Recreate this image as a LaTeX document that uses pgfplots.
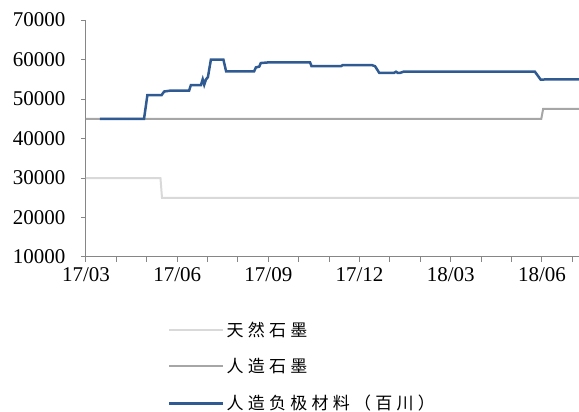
\documentclass[border=0pt]{standalone}
\usepackage{fontspec}
\setmainfont{Liberation Serif}
\newfontfamily\cjk[LetterSpace=25]{Noto Sans CJK SC}
\usepackage{pgfplots}
\pgfplotsset{compat=1.18}

\definecolor{natgray}{HTML}{D9D9D9}
\definecolor{artgray}{HTML}{A6A6A6}
\definecolor{anodeblue}{HTML}{2F5A92}
\definecolor{axgray}{HTML}{868686}

\begin{document}
\begin{tikzpicture}
\useasboundingbox (-86pt,-155pt) rectangle (493pt,257pt);
\begin{axis}[
    scale only axis,
    width=493pt, height=237pt,
    at={(0,0)}, anchor=south west,
    xmin=0, xmax=16.22,
    ymin=10000, ymax=70000,
    axis x line=bottom, axis y line=left,
    axis line style={-, draw=axgray, line width=1pt},
    tick style={draw=axgray, line width=1pt},
    tick align=outside,
    major tick length=5pt, minor tick length=5pt,
    xtick={0,3,6,9,12,15},
    xticklabels={17/03,17/06,17/09,17/12,18/03,18/06},
    minor xtick={1,2,4,5,7,8,10,11,13,14,16},
    ytick distance=10000,
    scaled y ticks=false,
    /pgf/number format/1000 sep={},
    /pgf/number format/assume math mode=true,
    ticklabel style={font=\fontsize{21}{23}\selectfont, text=black},
    yticklabel style={xshift=-12pt},
    xticklabel style={yshift=-2pt},
    legend style={at={(0.16,-0.255)}, anchor=north west, draw=none,
        font=\cjk\fontsize{17}{19}\selectfont, row sep=17pt,
        cells={anchor=west}},
    legend cell align=left,
    legend image code/.code={\draw[#1] (0pt,0pt) -- (54pt,0pt);},
]
\addplot[natgray, line width=2pt] coordinates {
    (0,30000) (2.45,30000) (2.50,25000) (16.22,25000)};
\addlegendentry{天然石墨}
\addplot[artgray, line width=2pt] coordinates {
    (0,45000) (14.98,45000) (15.04,47500) (16.22,47500)};
\addlegendentry{人造石墨}
\addplot[anodeblue, line width=2.5pt] coordinates {
    (0.46,45000) (1.91,45000) (2.02,51000) (2.49,51000) (2.57,51900)
    (2.76,52100) (3.39,52100) (3.45,53500) (3.78,53500) (3.84,55000)
    (3.89,53600) (3.95,55000) (4.01,55500) (4.11,60000) (4.52,60000)
    (4.61,57000) (5.53,57000) (5.59,58000) (5.70,58200) (5.75,59100)
    (6.05,59300) (7.37,59300) (7.42,58300) (8.39,58300) (8.45,58600)
    (9.40,58600) (9.51,58300) (9.65,56600) (10.13,56600) (10.20,56900)
    (10.26,56600) (10.33,56600) (10.44,56900) (14.77,56900) (14.96,54900)
    (15.26,55000) (16.22,55000)};
\addlegendentry{人造负极材料（百川）}
\end{axis}
\end{tikzpicture}
\end{document}
